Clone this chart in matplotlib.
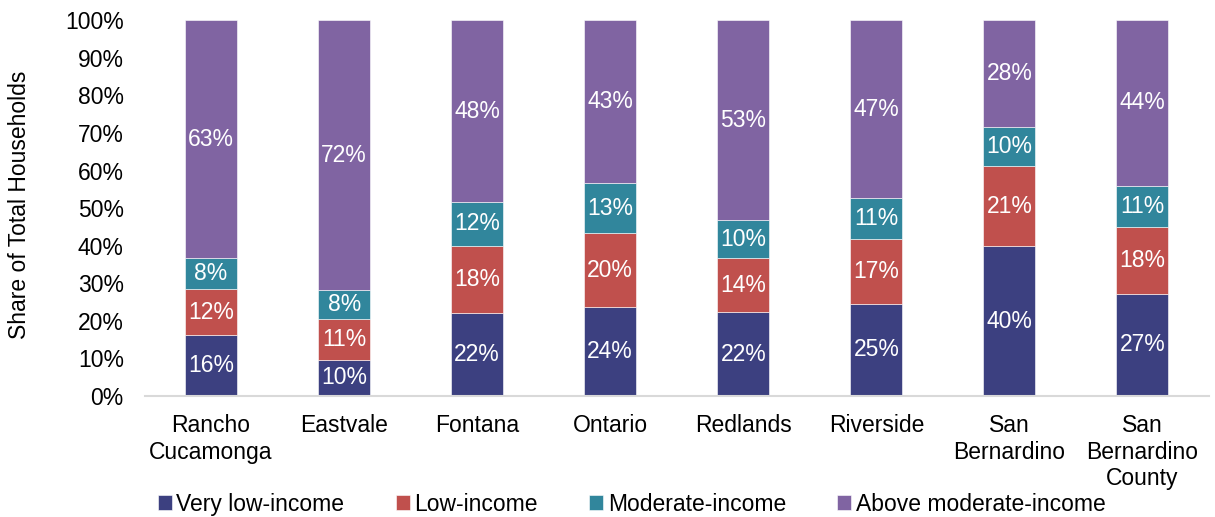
import numpy as np
import matplotlib.pyplot as plt
from matplotlib.ticker import PercentFormatter

plt.rcParams['font.family'] = ['Liberation Sans', 'DejaVu Sans']

cities = ['Rancho\nCucamonga', 'Eastvale', 'Fontana', 'Ontario', 'Redlands',
          'Riverside', 'San\nBernardino', 'San\nBernardino\nCounty']
very_low = [16.2, 9.6, 22.0, 23.6, 22.3, 24.6, 39.8, 27.2]
low = [12.2, 11.0, 18.0, 19.8, 14.3, 17.2, 21.4, 17.9]
moderate = [8.2, 7.6, 11.6, 13.2, 10.1, 10.8, 10.4, 10.9]
above = [63.4, 71.8, 48.4, 43.4, 53.3, 47.4, 28.4, 44.0]

series = [('Very low-income', very_low, '#3C4080'),
          ('Low-income', low, '#C0504D'),
          ('Moderate-income', moderate, '#31869C'),
          ('Above moderate-income', above, '#8064A2')]

fs = 16.5

fig = plt.figure(figsize=(12.15, 5.17), dpi=100)
ax = fig.add_axes([0.119, 0.234, 0.876, 0.727])

x = np.arange(len(cities))
bottom = np.zeros(len(cities))
for name, vals, col in series:
    vals = np.array(vals)
    ax.bar(x, vals, 0.39, bottom=bottom, color=col, label=name,
           edgecolor='white', linewidth=0.4)
    for xi, b, v in zip(x, bottom, vals):
        ax.text(xi, b + v / 2, '%d%%' % round(v), ha='center', va='center',
                color='white', fontsize=fs)
    bottom += vals

ax.set_xlim(-0.5, len(cities) - 0.5)
ax.set_ylim(0, 100)
ax.set_yticks(np.arange(0, 101, 10))
ax.yaxis.set_major_formatter(PercentFormatter(decimals=0))
ax.set_xticks(x)
ax.set_xticklabels(cities, fontsize=fs, linespacing=1.2)
ax.tick_params(axis='y', labelsize=fs, length=0, pad=15)
ax.tick_params(axis='x', length=0, pad=13)
ax.set_ylabel('Share of Total Households', fontsize=fs)
ax.yaxis.set_label_coords(-0.107, 0.51)

for s in ['top', 'right', 'left']:
    ax.spines[s].set_visible(False)
ax.spines['bottom'].set_color('#D9D9D9')
ax.spines['bottom'].set_linewidth(1.5)

fig.legend(loc='lower center', bbox_to_anchor=(0.52, -0.037), ncol=4,
           frameon=False, fontsize=fs, handlelength=0.6, handleheight=0.6,
           handletextpad=0.2, columnspacing=2.25)

plt.savefig('out.png', dpi=100)
plt.close()
